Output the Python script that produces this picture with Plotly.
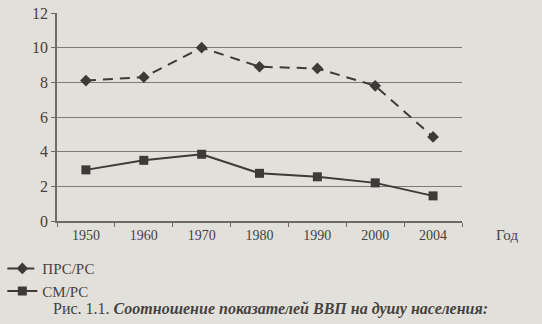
import plotly.graph_objects as go

years = ["1950", "1960", "1970", "1980", "1990", "2000", "2004"]
prs_rs = [8.1, 8.3, 10.0, 8.9, 8.8, 7.8, 4.85]
sm_rs = [2.95, 3.5, 3.85, 2.75, 2.55, 2.2, 1.45]
y_ticks = [0, 2, 4, 6, 8, 10, 12]

bg = "#e2e0db"
ink = "#3c3b39"
txt = "#45433f"
font = "Liberation Serif"

fig = go.Figure()
fig.add_trace(go.Scatter(
    x=years, y=prs_rs, name="ПРС/РС", mode="lines+markers",
    line=dict(color=ink, width=2, dash="10px,7px"),
    marker=dict(symbol="diamond", size=9, color=ink),
))
fig.add_trace(go.Scatter(
    x=years, y=sm_rs, name="СМ/РС", mode="lines+markers",
    line=dict(color=ink, width=2),
    marker=dict(symbol="square", size=9, color=ink),
))

fig.update_layout(
    width=542, height=324,
    margin=dict(l=57, r=80, t=13, b=103, autoexpand=False),
    paper_bgcolor=bg, plot_bgcolor=bg,
    font=dict(family=font, size=14, color=txt),
    showlegend=True,
    legend=dict(
        xref="paper", yref="paper", x=-0.135, y=-0.15,
        xanchor="left", yanchor="top",
        bgcolor="rgba(0,0,0,0)", font=dict(size=15, family=font, color=txt),
        tracegroupgap=0, itemwidth=30,
    ),
    xaxis=dict(
        type="category", range=[-0.5, 6.5],
        showline=True, linecolor="#6d6b67", linewidth=1.5,
        ticks="outside", tickson="boundaries", ticklen=4, tickcolor="#6d6b67",
        showgrid=False, tickfont=dict(size=14),
    ),
    yaxis=dict(
        range=[0, 12], tickvals=y_ticks,
        showline=True, linecolor="#6d6b67", linewidth=1.5,
        ticks="outside", ticklen=4, tickcolor="#6d6b67",
        gridcolor="#7d7b77", gridwidth=1, zeroline=False,
        tickfont=dict(size=16),
    ),
    annotations=[
        dict(text="Год", xref="paper", yref="paper", x=1.08, y=-0.02,
             xanchor="left", yanchor="top", showarrow=False,
             font=dict(size=15, family=font, color=txt)),
        dict(text="Рис. 1.1. <b><i>Соотношение показателей ВВП на душу населения:</i></b>",
             xref="paper", yref="paper", x=0.526, y=-0.425,
             xanchor="center", yanchor="middle", showarrow=False,
             font=dict(size=16, family=font, color=txt)),
    ],
)

fig.write_html("out.html")
